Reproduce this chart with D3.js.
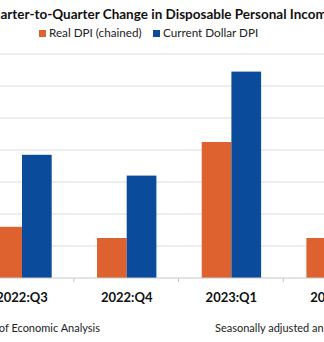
<!DOCTYPE html>
<html>
<head>
<meta charset="utf-8">
<script src="https://cdn.jsdelivr.net/npm/d3@7"></script>
<style>
  body { margin: 0; background: #fff; }
  svg { display: block; font-family: Lato, "Open Sans", sans-serif; }
</style>
</head>
<body>
<svg width="324" height="342"></svg>
<script>
// quarterly change, percent at annual rate
var quarters = ["2022:Q3", "2022:Q4", "2023:Q1", "2023:Q2"];
var seriesNames = ["Real DPI (chained)", "Current Dollar DPI"];
var realDpi = [3.2, 2.5, 8.5, 2.5];
var currentDpi = [7.7, 6.4, 12.9, 5.0];
var yTicks = [0, 2, 4, 6, 8, 10, 12, 14];

var colors = ["#de6130", "#0b4b9b"];

var svg = d3.select("svg"),
    margin = { top: 54, bottom: 64 },
    height = +svg.attr("height") - margin.top - margin.bottom;

var data = quarters.map(function (q, i) {
    return { quarter: q, values: [realDpi[i], currentDpi[i]] };
});

// plot area starts left of the visible window
var step = 104.7,
    x0 = -30.35;

var x = d3.scaleBand()
    .domain(quarters)
    .range([x0, x0 + step * quarters.length])
    .paddingInner(0)
    .paddingOuter(0);

var barW = 29.7;
var x1 = d3.scaleBand()
    .domain([0, 1])
    .range([(step - 2 * barW) / 2, (step + 2 * barW) / 2]);

var y = d3.scaleLinear()
    .domain([0, 14])
    .range([margin.top + height, margin.top]);

// gridlines
svg.append("g")
    .selectAll("line")
    .data(yTicks.slice(1))
    .enter().append("line")
    .attr("x1", 0)
    .attr("x2", 324)
    .attr("y1", function (d) { return y(d); })
    .attr("y2", function (d) { return y(d); })
    .attr("stroke", "#dcdcdc")
    .attr("stroke-width", 1);

// bars
var groups = svg.append("g")
    .selectAll("g")
    .data(data)
    .enter().append("g")
    .attr("transform", function (d) { return "translate(" + x(d.quarter) + ",0)"; });

groups.selectAll("rect")
    .data(function (d) { return d.values; })
    .enter().append("rect")
    .attr("x", function (d, i) { return x1(i); })
    .attr("y", function (d) { return y(d); })
    .attr("width", x1.bandwidth())
    .attr("height", function (d) { return y(0) - y(d); })
    .attr("fill", function (d, i) { return colors[i]; });

// category axis
var xAxis = svg.append("g")
    .attr("transform", "translate(0," + y(0) + ")");

xAxis.append("line")
    .attr("x1", 0)
    .attr("x2", 324)
    .attr("stroke", "#c8c8c8");

xAxis.selectAll(".tick")
    .data(quarters.slice(1))
    .enter().append("line")
    .attr("class", "tick")
    .attr("x1", function (d) { return x(d) - 0.5; })
    .attr("x2", function (d) { return x(d) - 0.5; })
    .attr("y1", 0)
    .attr("y2", 4)
    .attr("stroke", "#c8c8c8");

xAxis.selectAll("text")
    .data(quarters)
    .enter().append("text")
    .attr("x", function (d) { return x(d) + step / 2; })
    .attr("y", 23.7)
    .attr("text-anchor", "middle")
    .style("font-size", "13px")
    .style("font-weight", "bold")
    .attr("fill", "#111")
    .text(function (d) { return d; });

// title
svg.append("text")
    .attr("x", -18)
    .attr("y", 19.3)
    .style("font-size", "13.5px")
    .style("font-weight", "bold")
    .attr("fill", "#111")
    .text("Quarter-to-Quarter Change in Disposable Personal Income");

// legend
var legendX = [39, 153];
var legend = svg.append("g")
    .selectAll("g")
    .data(seriesNames)
    .enter().append("g")
    .attr("transform", function (d, i) { return "translate(" + legendX[i] + ",0)"; });

legend.append("rect")
    .attr("x", 0)
    .attr("y", 30)
    .attr("width", 7)
    .attr("height", 7)
    .attr("fill", function (d, i) { return colors[i]; });

legend.append("text")
    .attr("x", 10)
    .attr("y", 36.7)
    .style("font-size", "11.7px")
    .attr("fill", "#222")
    .text(function (d) { return d; });

// footnotes
svg.append("text")
    .attr("x", 100)
    .attr("y", 331.7)
    .attr("text-anchor", "end")
    .style("font-size", "11px")
    .attr("fill", "#222")
    .text("Source: U.S. Bureau of Economic Analysis");

svg.append("text")
    .attr("x", 215)
    .attr("y", 331.7)
    .style("font-size", "11px")
    .attr("fill", "#222")
    .text("Seasonally adjusted annual rates");
</script>
</body>
</html>
